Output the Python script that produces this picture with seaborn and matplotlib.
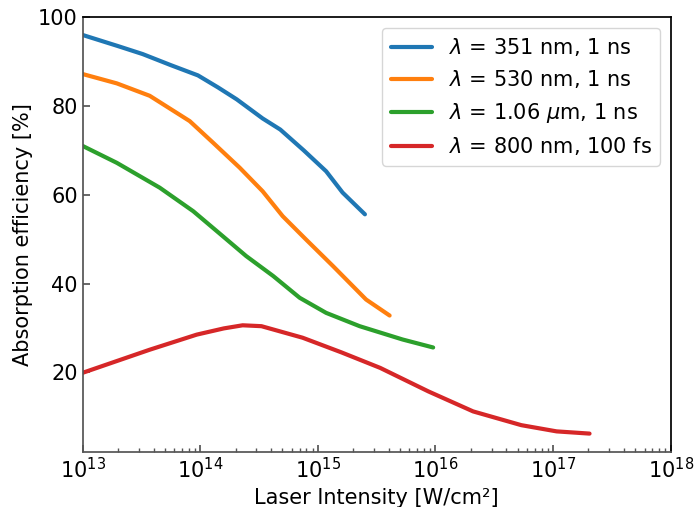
import numpy as np
import pandas as pd
import matplotlib
matplotlib.use("Agg")
import matplotlib.pyplot as plt
import seaborn as sns

# Absorption efficiency vs laser intensity
labels = [r"$\lambda$ = 351 nm, 1 ns",
          r"$\lambda$ = 530 nm, 1 ns",
          r"$\lambda$ = 1.06 $\mu$m, 1 ns",
          r"$\lambda$ = 800 nm, 100 fs"]

# log10 of intensity in W/cm^2
logI_351 = [13.0, 13.30, 13.51, 13.75, 13.98, 14.15, 14.31, 14.53, 14.68, 14.88, 15.07, 15.21, 15.40]
eff_351 = [96.0, 93.5, 91.7, 89.2, 86.9, 84.2, 81.5, 77.2, 74.7, 70.0, 65.3, 60.5, 55.6]

logI_530 = [13.0, 13.29, 13.57, 13.91, 14.11, 14.335, 14.53, 14.70, 14.90, 15.13, 15.41, 15.61]
eff_530 = [87.2, 85.1, 82.3, 76.6, 71.7, 66.1, 60.8, 55.2, 49.9, 43.9, 36.4, 32.8]

logI_106 = [13.0, 13.29, 13.655, 13.94, 14.19, 14.39, 14.62, 14.845, 15.07, 15.355, 15.72, 15.98]
eff_106 = [71.0, 67.2, 61.6, 56.3, 50.7, 46.2, 41.7, 36.8, 33.4, 30.4, 27.4, 25.6]

logI_800 = [13.0, 13.57, 13.97, 14.20, 14.36, 14.52, 14.87, 15.20, 15.53, 15.94, 16.32, 16.73, 17.03, 17.31]
eff_800 = [19.9, 25.1, 28.5, 29.9, 30.6, 30.4, 27.8, 24.5, 21.0, 15.7, 11.2, 8.1, 6.7, 6.2]

series = [(logI_351, eff_351), (logI_530, eff_530), (logI_106, eff_106), (logI_800, eff_800)]
frames = []
for lab, (lx, ey) in zip(labels, series):
    frames.append(pd.DataFrame({"intensity": 10 ** np.array(lx), "eff": ey, "case": lab}))
df = pd.concat(frames, ignore_index=True)

sns.set_theme(style="ticks")
plt.rcParams["font.family"] = ["DejaVu Sans"]
plt.rcParams["axes.edgecolor"] = "black"
plt.rcParams["text.color"] = "black"
plt.rcParams["axes.labelcolor"] = "black"
plt.rcParams["xtick.labelcolor"] = "black"
plt.rcParams["ytick.labelcolor"] = "black"

fig = plt.figure(figsize=(6.95, 5.07), dpi=100)
ax = fig.add_axes([0.119, 0.108, 0.846, 0.858])

sns.lineplot(data=df, x="intensity", y="eff", hue="case", hue_order=labels,
             palette=sns.color_palette("tab10", 4), linewidth=3, sort=False,
             estimator=None, ax=ax)

ax.set_xscale("log")
ax.set_xlim(1e13, 1e18)
ax.set_ylim(2, 100)
ax.set_yticks([20, 40, 60, 80, 100])
ax.set_xticks([1e13, 1e14, 1e15, 1e16, 1e17, 1e18])
ax.tick_params(axis="both", which="both", direction="in", labelsize=15, color="#555555")
ax.tick_params(axis="both", which="major", length=5)
ax.tick_params(axis="x", which="minor", length=3)
ax.spines["left"].set_color("#555555")
ax.spines["bottom"].set_color("#555555")
ax.set_xlabel("Laser Intensity [W/cm²]", fontsize=15)
ax.set_ylabel("Absorption efficiency [%]", fontsize=15)

leg = ax.legend(loc="upper right", fontsize=15, frameon=True, handlelength=2)
leg.get_frame().set_edgecolor("#cccccc")

fig.savefig("out.png", dpi=100)
